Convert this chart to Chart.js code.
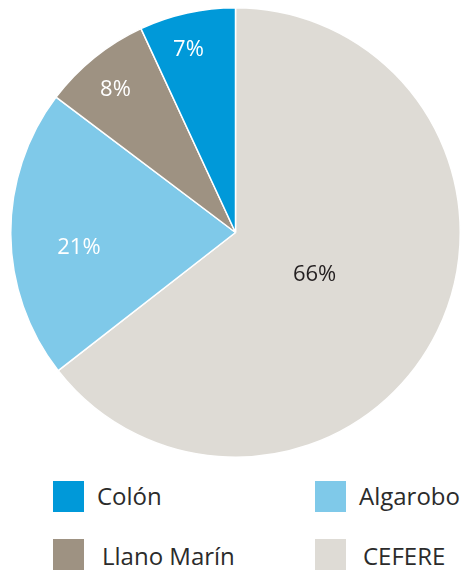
<!DOCTYPE html>
<html>
<head>
<meta charset="utf-8">
<script src="https://cdn.jsdelivr.net/npm/chart.js@4"></script>
<style>
  html, body { margin: 0; padding: 0; background: #fff; }
  body { width: 464px; height: 570px; position: relative; overflow: hidden; font-family: "Open Sans", sans-serif; }
  #wrap { position: absolute; left: 10px; top: 7px; width: 451px; height: 451px; }
  .sw { position: absolute; width: 31px; height: 31px; }
  .lb { position: absolute; font-size: 24px; color: #2b2b2b; line-height: 30px; white-space: nowrap; }
</style>
</head>
<body>
<div id="wrap"><canvas id="pieChart"></canvas></div>
<div id="legend"></div>
<script>
// data, in drawing order (clockwise from the top)
var categories = ["CEFERE", "Algarobo", "Llano Marín", "Colón"];
var shares = [64.4, 20.8, 7.8, 6.9];
var shownPct = ["66%", "21%", "8%", "7%"];
var colors = ["#dedbd5", "#7fc9e9", "#9e9282", "#0099d9"];
var labelColors = ["#231f20", "#ffffff", "#ffffff", "#ffffff"];
// where each % label sits: [fraction along the slice, fraction of radius]
var labelAt = [[0.51, 0.40], [0.43, 0.70], [0.46, 0.83], [0.42, 0.84]];

// legend order as in the reference
var legendOrder = ["Colón", "Algarobo", "Llano Marín", "CEFERE"];
var legendSpots = [
  { sx: 53, sy: 481, tx: 97, ty: 481 },
  { sx: 315, sy: 481, tx: 359, ty: 481 },
  { sx: 53, sy: 539, tx: 102, ty: 541 },
  { sx: 315, sy: 539, tx: 363, ty: 541 }
];

var legend = document.getElementById("legend");
legendOrder.forEach(function(name, i) {
  var idx = categories.indexOf(name);
  var p = legendSpots[i];
  var sw = document.createElement("div");
  sw.className = "sw";
  sw.style.left = p.sx + "px";
  sw.style.top = p.sy + "px";
  sw.style.background = colors[idx];
  legend.appendChild(sw);
  var lb = document.createElement("div");
  lb.className = "lb";
  lb.style.left = p.tx + "px";
  lb.style.top = p.ty + "px";
  lb.textContent = name;
  legend.appendChild(lb);
});

// draws the % text on the slices
var pctLabels = {
  id: "pctLabels",
  afterDatasetsDraw: function(chart) {
    var ctx = chart.ctx;
    var arcs = chart.getDatasetMeta(0).data;
    ctx.save();
    ctx.font = "22px 'Open Sans', sans-serif";
    ctx.textAlign = "center";
    ctx.textBaseline = "middle";
    arcs.forEach(function(arc, i) {
      var a = arc.startAngle + labelAt[i][0] * (arc.endAngle - arc.startAngle);
      var r = labelAt[i][1] * arc.outerRadius;
      ctx.fillStyle = labelColors[i];
      ctx.fillText(shownPct[i], arc.x + r * Math.cos(a), arc.y + r * Math.sin(a));
    });
    ctx.restore();
  }
};

new Chart(document.getElementById("pieChart"), {
  type: "pie",
  data: {
    labels: categories,
    datasets: [{
      data: shares,
      backgroundColor: colors,
      borderColor: "#ffffff",
      borderWidth: 1.5
    }]
  },
  plugins: [pctLabels],
  options: {
    responsive: true,
    maintainAspectRatio: false,
    animation: false,
    layout: { padding: 0 },
    plugins: {
      legend: { display: false },
      tooltip: { enabled: false }
    }
  }
});
</script>
</body>
</html>
